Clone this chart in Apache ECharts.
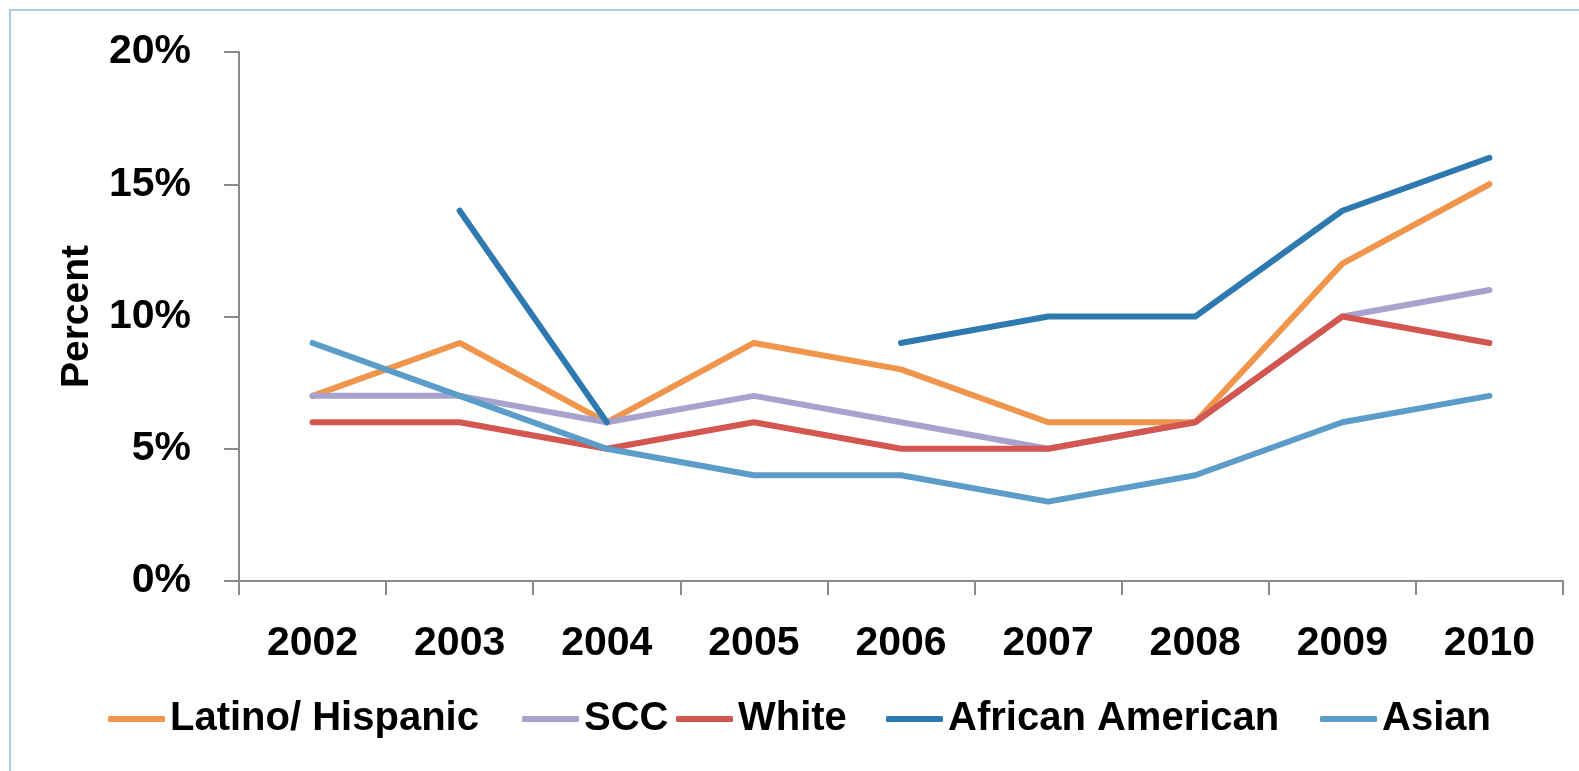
<!DOCTYPE html>
<html>
<head>
<meta charset="utf-8">
<script src="https://cdn.jsdelivr.net/npm/echarts@6/dist/echarts.min.js"></script>
<style>
html,body{margin:0;padding:0;background:#fff;overflow:hidden;}
#frame{position:absolute;left:9px;top:9px;width:1700px;height:900px;border:2px solid #A9CBE8;box-sizing:border-box;}
#chart{position:absolute;left:0;top:0;width:1579px;height:771px;}
</style>
</head>
<body>
<div id="frame"></div>
<div id="chart"></div>
<script>
const years = ['2002','2003','2004','2005','2006','2007','2008','2009','2010'];
const seriesNames = ['Latino/ Hispanic','SCC','White','African American','Asian'];
const latino = [7, 9, 6, 9, 8, 6, 6, 12, 15];
const scc = [7, 7, 6, 7, 6, 5, 6, 10, 11];
const white = [6, 6, 5, 6, 5, 5, 6, 10, 9];
const african = [null, 14, 6, null, 9, 10, 10, 14, 16];
const asian = [9, 7, 5, 4, 4, 3, 4, 6, 7];
const yTicks = [0, 5, 10, 15, 20];

const colors = ['#F0954C', '#A8A2CE', '#D4574F', '#2E7AB0', '#5C9CC9'];
const values = [latino, scc, white, african, asian];
const legendLeft = [108, 522, 676, 886, 1320];

const chart = echarts.init(document.getElementById('chart'), null, {renderer: 'canvas'});
const labelFont = {fontFamily: 'Liberation Sans', fontWeight: 'bold', fontSize: 41, color: '#000'};

const option = {
  animation: false,
  backgroundColor: 'transparent',
  grid: {left: 239, right: 16, top: 52, bottom: 190, containLabel: false},
  xAxis: {
    type: 'category',
    data: years,
    boundaryGap: true,
    axisLine: {lineStyle: {color: '#8A8A8A', width: 2}},
    axisTick: {show: true, length: 14, lineStyle: {color: '#8A8A8A', width: 2}},
    axisLabel: Object.assign({margin: 42}, labelFont),
    splitLine: {show: false}
  },
  yAxis: {
    type: 'value',
    min: yTicks[0],
    max: yTicks[yTicks.length - 1],
    interval: 5,
    name: 'Percent',
    nameLocation: 'middle',
    nameGap: 142,
    nameRotate: 90,
    nameTextStyle: {fontFamily: 'Liberation Sans', fontWeight: 'bold', fontSize: 39, color: '#000'},
    axisLine: {show: true, lineStyle: {color: '#8A8A8A', width: 2}},
    axisTick: {show: true, length: 15, lineStyle: {color: '#8A8A8A', width: 2}},
    axisLabel: Object.assign({margin: 48, formatter: '{value}%'}, labelFont),
    splitLine: {show: false}
  },
  legend: seriesNames.map((n, i) => ({
    data: [n],
    left: legendLeft[i],
    top: 699,
    padding: 0,
    icon: 'roundRect',
    itemWidth: 57,
    itemHeight: 6,
    itemGap: 0,
    textStyle: {fontFamily: 'Liberation Sans', fontWeight: 'bold', fontSize: 40, color: '#000'}
  })),
  series: seriesNames.map((n, i) => ({
    name: n,
    type: 'line',
    data: values[i],
    connectNulls: false,
    showSymbol: false,
    symbol: 'none',
    color: colors[i],
    lineStyle: {width: 6, color: colors[i], cap: 'round', join: 'round'},
    z: 2
  }))
};
chart.setOption(option);
</script>
</body>
</html>
